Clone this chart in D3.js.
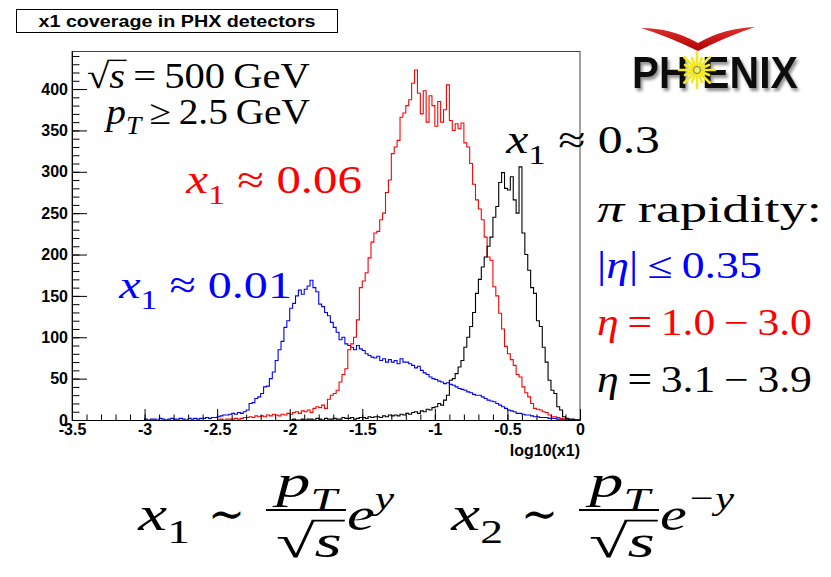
<!DOCTYPE html>
<html>
<head>
<meta charset="utf-8">
<script src="https://cdn.jsdelivr.net/npm/d3@7"></script>
<style>
  body { margin: 0; background: #fff; }
  svg { display: block; }
  .ax text { font-family: "Liberation Sans", Arial, sans-serif; font-weight: bold; font-size: 16px; fill: #000; }
  .ax line, .ax path { stroke: #000; }
</style>
</head>
<body>
<div id="chart"></div>
<script>
// histogram binning: log10(x1) from -3.5 to 0, bins of 0.02
const binWidth = 0.02;
const xTicks = [-3.5, -3, -2.5, -2, -1.5, -1, -0.5, 0];
const yTicks = [0, 50, 100, 150, 200, 250, 300, 350, 400];

// |eta| <= 0.35  (blue), first bin starts at -3.0
const blueStart = -3.0;
const blueCounts = [
  1,0,1,1,0, 2,1,0,1,2, 1,1,2,1,0, 2,1,2,1,2, 2,3,2,3,3,
  4,5,6,6,7, 8,7,9,8,10, 12,20,21,26,28, 32,40,41,50,58, 72,85,95,112,120,
  135,141,150,157,152, 158,162,169,160,155, 140,137,130,126,118, 112,106,97,100,92, 90,88,85,90,86,
  84,80,78,76,75, 77,72,74,70,73, 70,72,68,74,70, 70,68,66,63,65, 60,57,55,52,50,
  49,47,46,44,45, 43,42,40,38,37, 36,34,33,31,30, 30,28,26,24,23, 22,20,18,16,14,
  12,11,10,8,8, 7,6,6,5,4, 4,3,3,3,2, 2,2,1,1,1, 1,0,0,0,0
];

// eta = 1.0 - 3.0  (red), first bin starts at -2.5
const redStart = -2.5;
const redCounts = [
  0,1,0,1,1, 1,2,1,2,3, 3,4,3,5,4, 5,4,6,5,7, 6,5,7,6,8,
  7,9,10,8,11, 10,12,9,14,16, 15,18,14,25,30, 32,36,46,55,62, 85,92,100,121,160,
  168,178,196,215,226, 228,242,250,275,290, 322,330,338,366,371, 380,387,407,423,395, 370,398,360,392,380,
  355,385,360,375,405, 362,350,358,352,359, 335,330,310,285,266, 255,242,221,197,193, 161,150,129,110,89,
  80,73,66,55,52, 40,33,28,20,14, 13,12,10,9,6, 4,4,3,2,1, 1,0,0,0,0
];

// eta = 3.1 - 3.9  (black), first bin starts at -2.0
const blackStart = -2.0;
const blackCounts = [
  0,1,0,0,1, 0,1,1,0,2, 1,0,2,1,1, 2,1,1,3,2, 2,3,1,2,3,
  3,2,4,3,4, 4,3,5,4,6, 5,6,5,7,6, 8,7,9,10,8, 11,10,13,12,15,
  16,20,18,24,30, 48,50,56,64,72, 88,100,113,130,153, 170,185,197,210,221, 245,258,287,299,280,
  278,294,266,250,306, 226,200,181,160,153, 120,113,88,70,48, 36,32,16,12,4, 2,1,1,0,0
];

const W = 831, H = 577;
const frame = { left: 72, top: 51, right: 580, bottom: 420 };
const SERIF = '"Liberation Serif", "DejaVu Serif", serif';
const SANS = '"Liberation Sans", Arial, sans-serif';

const svg = d3.select("#chart").append("svg")
  .attr("width", W)
  .attr("height", H);

const x = d3.scaleLinear().domain([-3.5, 0]).range([frame.left, frame.right]);
const y = d3.scaleLinear().domain([0, 446]).range([frame.bottom, frame.top]);

// title box
svg.append("rect")
  .attr("x", 16.5).attr("y", 9.5).attr("width", 321).attr("height", 23)
  .attr("fill", "#fff").attr("stroke", "#000");
svg.append("text")
  .attr("x", 177).attr("y", 27)
  .attr("text-anchor", "middle")
  .attr("textLength", 277).attr("lengthAdjust", "spacingAndGlyphs")
  .style("font-family", SANS)
  .style("font-weight", "bold").style("font-size", "16px")
  .text("x1 coverage in PHX detectors");

// frame
svg.append("rect")
  .attr("x", frame.left).attr("y", frame.top + 0.5)
  .attr("width", frame.right - frame.left).attr("height", frame.bottom - frame.top)
  .attr("fill", "none").attr("stroke", "#444");

// histograms
svg.append("clipPath").attr("id", "clip")
  .append("rect").attr("x", frame.left).attr("y", frame.top)
  .attr("width", frame.right - frame.left).attr("height", frame.bottom - frame.top);

const line = d3.line()
  .x(d => x(d[0]))
  .y(d => y(d[1]))
  .curve(d3.curveStepAfter);

function histPoints(start, counts) {
  const pts = [[start, 0]];
  counts.forEach((c, i) => pts.push([start + i * binWidth, c]));
  pts.push([start + counts.length * binWidth, 0]);
  return pts;
}

const series = [
  { start: blueStart, counts: blueCounts, color: "#0000ff" },
  { start: redStart, counts: redCounts, color: "#ff0000" },
  { start: blackStart, counts: blackCounts, color: "#000000" }
];

svg.append("g").attr("clip-path", "url(#clip)")
  .selectAll("path")
  .data(series)
  .join("path")
    .attr("d", d => line(histPoints(d.start, d.counts)))
    .attr("fill", "none")
    .attr("stroke", d => d.color)
    .attr("stroke-width", 1.1);

// y axis (ticks inside the frame like ROOT)
svg.append("g").attr("class", "ax")
  .attr("transform", `translate(${frame.left},0)`)
  .call(d3.axisLeft(y).tickValues(d3.range(0, 441, 10)).tickSize(-7.5).tickFormat(""))
  .call(g => g.select(".domain").remove());
svg.append("g").attr("class", "ax")
  .attr("transform", `translate(${frame.left},0)`)
  .call(d3.axisLeft(y).tickValues(yTicks).tickSize(-15).tickSizeOuter(0).tickPadding(4));

// x axis
svg.append("g").attr("class", "ax")
  .attr("transform", `translate(0,${frame.bottom})`)
  .call(d3.axisBottom(x).tickValues(d3.range(-35, 1).map(i => i / 10)).tickSize(-5.5).tickFormat(""))
  .call(g => g.select(".domain").remove());
svg.append("g").attr("class", "ax")
  .attr("transform", `translate(0,${frame.bottom})`)
  .call(d3.axisBottom(x).tickValues(xTicks).tickSize(-11).tickSizeOuter(0).tickPadding(4)
    .tickFormat(d => String(d)));

svg.append("text")
  .attr("x", frame.right).attr("y", 456)
  .attr("text-anchor", "end")
  .style("font-family", SANS)
  .style("font-weight", "bold").style("font-size", "16px")
  .text("log10(x1)");

// math-like labels: pieces flow left to right, then the row is fitted to [x0, x1]
function mathRow(x0, x1, base, size, color, pieces) {
  const g = svg.append("g").attr("fill", color);
  const t = g.append("text").style("font-family", SERIF).style("font-size", size + "px");
  let shift = 0, idx = 0;
  const overs = [];
  pieces.forEach(p => {
    const target = p.sub ? size * 0.28 : p.sup ? -size * 0.45 : 0;
    const ts = t.append("tspan").text(p.t).attr("dy", target - shift);
    shift = target;
    if (p.it) ts.style("font-style", "italic");
    if (p.sub || p.sup) ts.style("font-size", (size * 0.7) + "px");
    if (p.dx) ts.attr("dx", p.dx);
    if (p.over) overs.push(idx);
    idx += p.t.length;
  });
  const bb = t.node().getBBox();
  const sx = (x1 - x0) / bb.width;
  g.attr("transform", `translate(${x0 - bb.x * sx},${base}) scale(${sx},1)`);
  overs.forEach(i => {
    const r = t.node().getExtentOfChar(i - 1);
    const e = t.node().getExtentOfChar(i);
    g.append("line")
      .attr("x1", r.x + r.width * 0.92).attr("x2", e.x + e.width + size * 0.04)
      .attr("y1", -size * 0.79).attr("y2", -size * 0.79)
      .attr("stroke", color).attr("stroke-width", size * 0.04);
  });
  return g;
}

const th = "\u2009";

// top-left annotations
mathRow(87, 310, 88, 35, "#000", [
  { t: "√" }, { t: "s", it: 1, over: 1 }, { t: th + "=" + th + "500" + th + "GeV" }
]);
mathRow(103, 310, 124, 35, "#000", [
  { t: "p", it: 1 }, { t: "T", it: 1, sub: 1 }, { t: th + "≥" + th + "2.5" + th + "GeV" }
]);

// x1 labels for each curve
mathRow(185, 362, 193, 39, "#ff0000", [
  { t: "x", it: 1 }, { t: "1", sub: 1 }, { t: " ≈ 0.06" }
]);
mathRow(118, 292, 298, 39, "#0000ff", [
  { t: "x", it: 1 }, { t: "1", sub: 1 }, { t: " ≈ 0.01" }
]);
mathRow(505, 660, 153, 39, "#000", [
  { t: "x", it: 1 }, { t: "1", sub: 1 }, { t: " ≈ 0.3" }
]);

// rapidity legend
mathRow(597, 822, 222, 37, "#000", [
  { t: "π", it: 1 }, { t: " rapidity:" }
]);
mathRow(597, 762, 278, 37, "#0000ff", [
  { t: "|" }, { t: "η", it: 1 }, { t: "|" + th + "≤" + th + "0.35" }
]);
mathRow(597, 812, 335, 37, "#ff0000", [
  { t: "η", it: 1 }, { t: th + "=" + th + "1.0" + th + "−" + th + "3.0" }
]);
mathRow(597, 812, 392, 37, "#000", [
  { t: "η", it: 1 }, { t: th + "=" + th + "3.1" + th + "−" + th + "3.9" }
]);

// bottom formulas
function formula(dx, idx, expo) {
  mathRow(137 + dx, 190 + dx, 530, 48, "#000", [{ t: "x", it: 1 }, { t: idx, sub: 1 }]);
  mathRow(208 + dx, 245 + dx, 530, 48, "#000", [{ t: "∼" }]);
  mathRow(272 + dx, 340 + dx, 497, 46, "#000", [{ t: "p", it: 1 }, { t: "T", it: 1, sub: 1 }]);
  svg.append("line")
    .attr("x1", 266 + dx).attr("x2", 346 + dx)
    .attr("y1", 510).attr("y2", 510)
    .attr("stroke", "#000").attr("stroke-width", 1.8);
  mathRow(276 + dx, 342 + dx, 557, 46, "#000", [{ t: "√" }, { t: "s", it: 1, over: 1 }]);
  mathRow(347 + dx, 347 + dx + (expo.length > 1 ? 75 : 48), 530, 46, "#000",
    [{ t: "e", it: 1 }, { t: expo, it: 1, sup: 1 }]);
}
formula(0, "1", "y");
formula(313, "2", "−y");

// PHENIX logo
const defs = svg.append("defs");
defs.append("filter").attr("id", "shadow")
  .attr("x", "-20%").attr("y", "-20%").attr("width", "140%").attr("height", "150%")
  .append("feDropShadow")
    .attr("dx", 2).attr("dy", 3).attr("stdDeviation", 1.5)
    .attr("flood-color", "#777").attr("flood-opacity", 0.8);
const swoosh = defs.append("linearGradient").attr("id", "swoosh")
  .attr("x1", 0).attr("x2", 0).attr("y1", 0).attr("y2", 1);
swoosh.append("stop").attr("offset", 0).attr("stop-color", "#e03030");
swoosh.append("stop").attr("offset", 1).attr("stop-color", "#b00000");

const logo = svg.append("g");
logo.append("path")
  .attr("d", "M641,28 Q672,28 698,43 Q724,28 755,27 Q728,36 698,51 Q667,36 641,28 Z")
  .attr("fill", "url(#swoosh)");

logo.append("text")
  .attr("y", 88)
  .attr("fill", "#111").attr("filter", "url(#shadow)")
  .style("font-family", '"Liberation Sans Narrow", "Liberation Sans", Arial, sans-serif')
  .style("font-weight", "bold").style("font-size", "45px")
  .selectAll("tspan")
  .data([["PH", 632, 56], ["ENIX", 702, 96]])
  .join("tspan")
    .attr("x", d => d[1])
    .attr("textLength", d => d[2]).attr("lengthAdjust", "spacingAndGlyphs")
    .text(d => d[0]);

const star = logo.append("g").attr("transform", "translate(697,70)");
star.selectAll("line")
  .data(d3.range(16))
  .join("line")
    .attr("x1", a => 4 * Math.cos(a * Math.PI / 8))
    .attr("y1", a => 4 * Math.sin(a * Math.PI / 8))
    .attr("x2", a => (a % 2 ? 13 : 18) * Math.cos(a * Math.PI / 8))
    .attr("y2", a => (a % 2 ? 13 : 18) * Math.sin(a * Math.PI / 8))
    .attr("stroke", "#f2e81c").attr("stroke-width", 2.6)
    .attr("stroke-linecap", "round");
star.append("circle").attr("r", 3.5).attr("fill", "#f6ef60").attr("stroke", "#776").attr("stroke-width", 1);
</script>
</body>
</html>
